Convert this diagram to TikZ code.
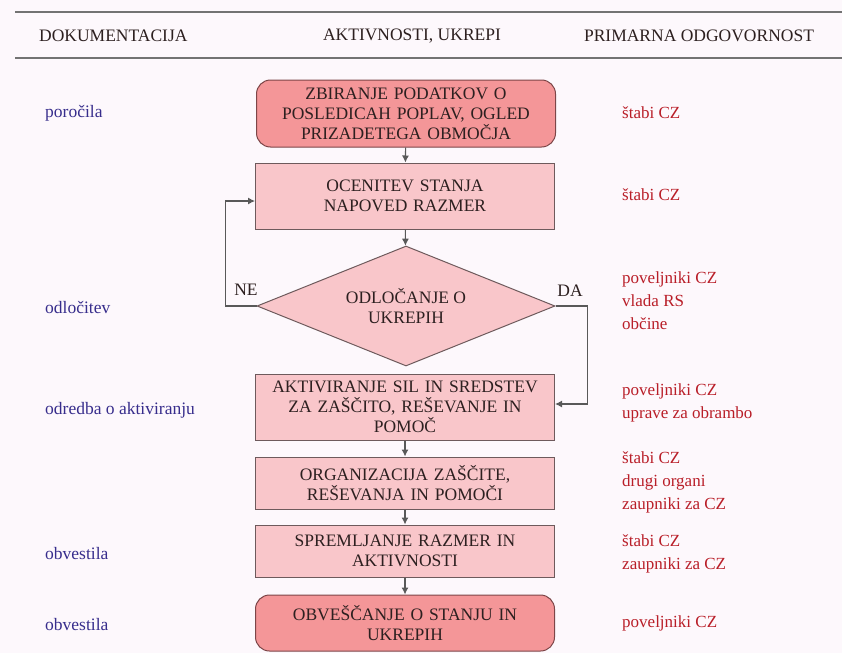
\documentclass[tikz,border=0pt]{standalone}
\usepackage{fontspec}
\setmainfont{Liberation Serif}
\usetikzlibrary{shapes.geometric,arrows.meta}
\definecolor{bgpink}{RGB}{253,248,252}
\definecolor{endfill}{RGB}{244,150,152}
\definecolor{endline}{RGB}{125,70,72}
\definecolor{boxfill}{RGB}{249,198,202}
\definecolor{boxline}{RGB}{110,90,92}
\definecolor{boxtext}{RGB}{45,32,32}
\definecolor{docblue}{RGB}{55,45,140}
\definecolor{respred}{RGB}{185,30,40}
\begin{document}
\begin{tikzpicture}
    [x=1pt,y=-1pt,font=\fontsize{17.5}{20}\selectfont,
     box/.style={draw=boxline,fill=boxfill,text=boxtext,line width=1pt,
       minimum width=299pt,text width=292pt,align=center,inner sep=0pt},
     endbox/.style={box,fill=endfill,draw=endline,rounded corners=14pt},
     arr/.style={draw=black!65,line width=1.1pt,-{Latex[length=7pt,width=7pt]}},
     rule/.style={draw=black!55,line width=1.6pt},
     doc/.style={text=docblue,anchor=west,inner sep=0pt},
     resp/.style={text=respred,anchor=west,inner sep=0pt,align=left,
       font=\fontsize{17}{23}\selectfont},
     head/.style={text=boxtext,inner sep=0pt}]
    \fill[bgpink] (0,0) rectangle (842,653);
    \useasboundingbox (0,0) rectangle (842,653);
    % header
    \draw[rule] (15,12) -- (842,12);
    \draw[rule] (15,58) -- (842,58);
    \node[head,anchor=west] (hdok) at (39,36) {DOKUMENTACIJA};
    \node[head] (hakt) at (412,36) {AKTIVNOSTI, UKREPI};
    \node[head] (hodg) at (699,36) {PRIMARNA ODGOVORNOST};
    % activities
    \node[endbox,minimum height=67pt] (zbir) at (406,113.5)
      {ZBIRANJE PODATKOV O\\POSLEDICAH POPLAV, OGLED\\PRIZADETEGA OBMOČJA};
    \node[box,minimum height=66pt] (ocen) at (405,196)
      {OCENITEV STANJA\\NAPOVED RAZMER};
    \node[diamond,aspect=2.5,draw=boxline,fill=boxfill,text=boxtext,line width=1pt,
      inner sep=0pt,minimum width=298pt,minimum height=120pt,align=center] (odl) at (406,306)
      {ODLOČANJE O\\UKREPIH};
    \node[box,minimum height=66pt] (akt) at (405,407)
      {AKTIVIRANJE SIL IN SREDSTEV\\ZA ZAŠČITO, REŠEVANJE IN\\POMOČ};
    \node[box,minimum height=52pt] (org) at (405,483)
      {ORGANIZACIJA ZAŠČITE,\\REŠEVANJA IN POMOČI};
    \node[box,minimum height=52pt] (spr) at (405,551)
      {SPREMLJANJE RAZMER IN\\AKTIVNOSTI};
    \node[endbox,minimum height=56pt] (obv) at (405,623)
      {OBVEŠČANJE O STANJU IN\\UKREPIH};
    \draw[arr] (zbir) -- (ocen);
    \draw[arr] (ocen) -- (odl);
    \draw[arr] (odl.west) -- ++(-31,0) |- ([yshift=-5pt]ocen.west);
    \draw[arr] (odl.east) -- ++(32,0) |- ([yshift=3pt]akt.east);
    \draw[arr] (akt) -- (org);
    \draw[arr] (org) -- (spr);
    \draw[arr] (spr) -- (obv);
    \node[head] (ne) at (246,290) {NE};
    \node[head] (da) at (570,291) {DA};
    % documentation
    \node[doc] (dpor) at (45,113) {poročila};
    \node[doc] (dodl) at (45,307) {odločitev};
    \node[doc] (dodr) at (45,410) {odredba o aktiviranju};
    \node[doc] (dobv) at (45,554) {obvestila};
    \node[doc] (dobs) at (45,625) {obvestila};
    % responsibility
    \node[resp] (rzbir) at (622,113) {štabi CZ};
    \node[resp] (rocen) at (622,195) {štabi CZ};
    \node[resp] (rodl) at (622,301) {poveljniki CZ\\vlada RS\\občine};
    \node[resp] (rakt) at (622,403) {poveljniki CZ\\uprave za obrambo};
    \node[resp] (rorg) at (622,482) {štabi CZ\\drugi organi\\zaupniki za CZ};
    \node[resp] (rspr) at (622,554) {štabi CZ\\zaupniki za CZ};
    \node[resp] (robv) at (622,623) {poveljniki CZ};
\end{tikzpicture}
\end{document}
